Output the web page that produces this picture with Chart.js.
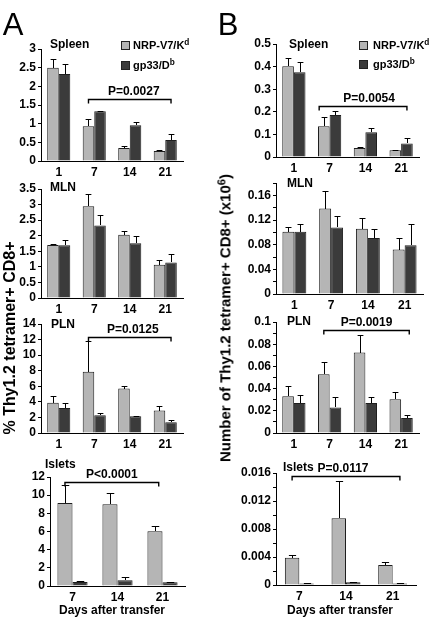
<!DOCTYPE html>
<html><head><meta charset="utf-8">
<script src="https://cdn.jsdelivr.net/npm/chart.js@4/dist/chart.umd.min.js"></script>
<style>
body{margin:0;background:#fff;width:432px;height:618px;position:relative;overflow:hidden;font-family:'Liberation Sans',Arial,sans-serif;}
canvas{position:absolute;}
.t{position:absolute;font-weight:bold;white-space:nowrap;color:#000;line-height:1;}
.c{transform:translate(-50%,-50%);}
.l{transform:translate(0,-50%);}
.r{transform:translate(-50%,-50%) rotate(-90deg);}
.sq{position:absolute;width:9px;height:9px;border:1px solid #222;box-sizing:border-box;}
sup{font-size:0.75em;vertical-align:0;position:relative;top:-0.45em;}
</style></head><body>
<script>
// ---------- DATA ----------
const daysFour = ['1', '7', '14', '21'];
const daysThree = ['7', '14', '21'];
const seriesNames = ['NRP-V7/Kd', 'gp33/Db'];

// Panel A: % Thy1.2 tetramer+ CD8+
const aSpleenNRP = [2.50, 0.93, 0.35, 0.27];
const aSpleenNRPErr = [0.22, 0.20, 0.04, 0.02];
const aSpleenGp33 = [2.33, 1.33, 0.96, 0.56];
const aSpleenGp33Err = [0.27, 0.01, 0.08, 0.16];

const aMlnNRP = [1.70, 2.95, 2.03, 1.07];
const aMlnNRPErr = [0.04, 0.38, 0.11, 0.15];
const aMlnGp33 = [1.69, 2.33, 1.76, 1.14];
const aMlnGp33Err = [0.17, 0.34, 0.22, 0.27];

const aPlnNRP = [3.90, 7.86, 5.71, 2.88];
const aPlnNRPErr = [0.87, 3.90, 0.39, 0.55];
const aPlnGp33 = [3.22, 2.28, 2.15, 1.37];
const aPlnGp33Err = [0.68, 0.34, 0.08, 0.26];

const aIsletNRP = [9.14, 8.99, 6.02];
const aIsletNRPErr = [2.02, 1.25, 0.58];
const aIsletGp33 = [0.44, 0.62, 0.40];
const aIsletGp33Err = [0.11, 0.33, 0.08];

// Panel B: Number of Thy1.2 tetramer+ CD8+ (x10^6)
const bSpleenNRP = [0.401, 0.136, 0.040, 0.030];
const bSpleenNRPErr = [0.037, 0.039, 0.004, 0.002];
const bSpleenGp33 = [0.375, 0.186, 0.109, 0.060];
const bSpleenGp33Err = [0.047, 0.019, 0.019, 0.024];

const bMlnNRP = [0.101, 0.1385, 0.106, 0.072];
const bMlnNRPErr = [0.007, 0.0285, 0.0175, 0.019];
const bMlnGp33 = [0.101, 0.108, 0.091, 0.079];
const bMlnGp33Err = [0.013, 0.019, 0.015, 0.034];

const bPlnNRP = [0.033, 0.053, 0.0725, 0.0305];
const bPlnNRPErr = [0.009, 0.011, 0.0155, 0.0065];
const bPlnGp33 = [0.027, 0.023, 0.027, 0.0136];
const bPlnGp33Err = [0.007, 0.009, 0.0056, 0.0024];

const bIsletNRP = [0.0039, 0.00955, 0.00287];
const bIsletNRPErr = [0.00035, 0.00525, 0.00038];
const bIsletGp33 = [0.0002, 0.0004, 0.0002];
const bIsletGp33Err = [0.0001, 0.0001, 0.00005];

// y-axis tick settings: [max, step, labelled step]
const aSpleenTicks = [3, 0.5, 0.5];
const aMlnTicks = [3.5, 0.5, 0.5];
const aPlnTicks = [14, 2, 2];
const aIsletTicks = [12, 2, 2];
const bSpleenTicks = [0.5, 0.1, 0.1];
const bMlnTicks = [0.18, 0.02, 0.04];
const bPlnTicks = [0.1, 0.01, 0.02];
const bIsletTicks = [0.016, 0.002, 0.004];

// significance brackets: value level and label
const aSpleenP = [1.66, 'P=0.0027'];
const aPlnP = [12.37, 'P=0.0125'];
const aIsletP = [11.45, 'P<0.0001'];
const bSpleenP = [0.227, 'P=0.0054'];
const bPlnP = [0.0924, 'P=0.0019'];
const bIsletP = [0.0156, 'P=0.0117'];

// ---------- STYLE / LAYOUT ----------
const LIGHT = '#b5b5b5', DARK = '#3b3b3b', EDGE = '#1e1e1e';
const FONT = "'Liberation Sans', Arial, sans-serif";
const YW = 45, PT = 18, PR = 6, XH = 22;

const panels = [
  {cats: daysFour, nrp: aSpleenNRP, nrpE: aSpleenNRPErr, gp: aSpleenGp33, gpE: aSpleenGp33Err, ticks: aSpleenTicks,
   area: {l: 41, r: 183, t: 49, b: 161}, cp: 0.65, br: {p: aSpleenP, from: [1, 0, 0], to: [3, 1, 0], dx: 4}},
  {cats: daysFour, nrp: aMlnNRP, nrpE: aMlnNRPErr, gp: aMlnGp33, gpE: aMlnGp33Err, ticks: aMlnTicks,
   area: {l: 41, r: 183, t: 189, b: 298}, cp: 0.65},
  {cats: daysFour, nrp: aPlnNRP, nrpE: aPlnNRPErr, gp: aPlnGp33, gpE: aPlnGp33Err, ticks: aPlnTicks,
   area: {l: 41, r: 183, t: 324, b: 433}, cp: 0.65, br: {p: aPlnP, from: [1, 0, 0], to: [3, 1, 0], dx: 3}},
  {cats: daysThree, nrp: aIsletNRP, nrpE: aIsletNRPErr, gp: aIsletGp33, gpE: aIsletGp33Err, ticks: aIsletTicks,
   area: {l: 50, r: 185, t: 477, b: 586}, cp: 0.67, br: {p: aIsletP, from: [0, 0, 0], to: [2, 0, 0.25], dx: 0}},
  {cats: daysFour, nrp: bSpleenNRP, nrpE: bSpleenNRPErr, gp: bSpleenGp33, gpE: bSpleenGp33Err, ticks: bSpleenTicks,
   area: {l: 276, r: 419, t: 44, b: 157}, cp: 0.65, br: {p: bSpleenP, from: [1, 0, -0.4], to: [3, 1, 0], dx: 6}},
  {cats: daysFour, nrp: bMlnNRP, nrpE: bMlnNRPErr, gp: bMlnGp33, gpE: bMlnGp33Err, ticks: bMlnTicks,
   area: {l: 276, r: 423, t: 183, b: 294}, cp: 0.65},
  {cats: daysFour, nrp: bPlnNRP, nrpE: bPlnNRPErr, gp: bPlnGp33, gpE: bPlnGp33Err, ticks: bPlnTicks,
   area: {l: 276, r: 419, t: 322, b: 433}, cp: 0.65, br: {p: bPlnP, from: [1, 0, 0], to: [3, 1, 0.2], dx: 0}},
  {cats: daysThree, nrp: bIsletNRP, nrpE: bIsletNRPErr, gp: bIsletGp33, gpE: bIsletGp33Err, ticks: bIsletTicks,
   area: {l: 276, r: 416, t: 473, b: 585}, cp: 0.62, br: {p: bIsletP, from: [0, 0, 0], to: [2, 1, 0], dx: -3}}
];

const errorBars = {
  id: 'errorBars',
  afterDatasetsDraw(chart) {
    const ctx = chart.ctx, ys = chart.scales.y;
    chart.data.datasets.forEach((ds, di) => {
      chart.getDatasetMeta(di).data.forEach((bar, i) => {
        const x = Math.round(bar.x) + 0.5;
        const top = Math.round(ys.getPixelForValue(ds.data[i] + ds.err[i])) + 0.5;
        const cap = Math.max(2.5, bar.width * 0.25);
        ctx.save();
        ctx.strokeStyle = '#000'; ctx.lineWidth = 1;
        ctx.beginPath();
        ctx.moveTo(x, Math.round(bar.y)); ctx.lineTo(x, top);
        ctx.moveTo(x - cap, top); ctx.lineTo(x + cap, top);
        ctx.stroke();
        ctx.restore();
      });
    });
  }
};

function bracketPlugin(br) {
  return {
    id: 'bracket',
    afterDraw(chart) {
      if (!br) return;
      const ctx = chart.ctx, ys = chart.scales.y;
      const e1 = chart.getDatasetMeta(br.from[1]).data[br.from[0]];
      const e2 = chart.getDatasetMeta(br.to[1]).data[br.to[0]];
      const x1 = e1.x + br.from[2] * e1.width, x2 = e2.x + br.to[2] * e2.width;
      const y = Math.round(ys.getPixelForValue(br.p[0])) + 0.5;
      ctx.save();
      ctx.strokeStyle = '#000'; ctx.lineWidth = 1.4;
      ctx.beginPath();
      ctx.moveTo(x1, y + 4); ctx.lineTo(x1, y); ctx.lineTo(x2, y); ctx.lineTo(x2, y + 4);
      ctx.stroke();
      ctx.fillStyle = '#000';
      ctx.font = 'bold 12px ' + FONT;
      ctx.textAlign = 'center'; ctx.textBaseline = 'middle';
      ctx.fillText(br.p[1], (x1 + x2) / 2 + br.dx, y - 8);
      ctx.restore();
    }
  };
}

function isMajor(v, major) {
  const q = v / major;
  return Math.abs(q - Math.round(q)) < 1e-6;
}

panels.forEach(p => {
  const a = p.area;
  const cv = document.createElement('canvas');
  const W = (a.r - a.l) + YW + PR, H = (a.b - a.t) + PT + XH;
  cv.width = W; cv.height = H;
  cv.style.left = (a.l - YW) + 'px';
  cv.style.top = (a.t - PT) + 'px';
  cv.style.width = W + 'px'; cv.style.height = H + 'px';
  document.body.appendChild(cv);
  const [max, step, major] = p.ticks;
  new Chart(cv, {
    type: 'bar',
    data: {
      labels: p.cats,
      datasets: [
        {label: seriesNames[0], data: p.nrp, err: p.nrpE, backgroundColor: LIGHT, borderColor: EDGE, borderWidth: 1},
        {label: seriesNames[1], data: p.gp, err: p.gpE, backgroundColor: DARK, borderColor: EDGE, borderWidth: 1}
      ]
    },
    options: {
      responsive: false, animation: false, devicePixelRatio: 1,
      layout: {padding: {top: PT, right: PR, left: 0, bottom: 0}},
      datasets: {bar: {categoryPercentage: p.cp, barPercentage: 1.0}},
      plugins: {legend: {display: false}, tooltip: {enabled: false}},
      scales: {
        x: {
          grid: {display: false, drawTicks: false, tickLength: 0},
          border: {display: true, color: '#000', width: 1},
          ticks: {color: '#000', font: {family: FONT, size: 12, weight: 'bold'}, padding: 4, maxRotation: 0},
          afterFit: s => { s.height = XH; }
        },
        y: {
          min: 0, max: max,
          grid: {display: true, drawOnChartArea: false, drawTicks: true, tickLength: 3, color: '#000', lineWidth: 1},
          border: {display: true, color: '#000', width: 1},
          ticks: {
            stepSize: step, autoSkip: false, color: '#000', padding: 2,
            font: {family: FONT, size: 12, weight: 'bold'},
            callback: v => isMajor(v, major) ? String(Number(v.toFixed(4))) : ''
          },
          afterFit: s => { s.width = YW; }
        }
      }
    },
    plugins: [errorBars, bracketPlugin(p.br)]
  });
});

// ---------- TEXT ----------
function txt(html, x, y, cls, size, extra) {
  const d = document.createElement('div');
  d.className = 't ' + cls;
  d.innerHTML = html;
  d.style.left = x + 'px'; d.style.top = y + 'px';
  d.style.fontSize = size + 'px';
  if (extra) Object.assign(d.style, extra);
  document.body.appendChild(d);
}
function sq(x, y, color) {
  const d = document.createElement('div');
  d.className = 'sq'; d.style.left = x + 'px'; d.style.top = y + 'px'; d.style.background = color;
  document.body.appendChild(d);
}
txt('A', 13, 24, 'c', 31, {fontWeight: 'normal'});
txt('B', 228, 24, 'c', 31, {fontWeight: 'normal'});

txt('Spleen', 50, 44, 'l', 12);
txt('MLN', 50, 187, 'l', 12);
txt('PLN', 51, 324, 'l', 12);
txt('Islets', 45, 464, 'l', 12);
txt('Spleen', 289, 44, 'l', 12);
txt('MLN', 287, 183, 'l', 12);
txt('PLN', 287, 321, 'l', 12);
txt('Islets', 283, 467, 'l', 12);

sq(121, 41, LIGHT); sq(121, 61, DARK);
txt('NRP-V7/K<sup>d</sup>', 133, 46, 'l', 11);
txt('gp33/D<sup>b</sup>', 133, 66, 'l', 11);
sq(359, 41, LIGHT); sq(359, 60, DARK);
txt('NRP-V7/K<sup>d</sup>', 373, 46, 'l', 11);
txt('gp33/D<sup>b</sup>', 373, 65, 'l', 11);

txt('% Thy1.2 tetramer+ CD8+', 10, 338, 'r', 16);
txt('Number of Thy1.2 tetramer+ CD8+ (x10<sup>6</sup>)', 225, 318, 'r', 15);

txt('Days after transfer', 112, 610, 'c', 12);
txt('Days after transfer', 340, 610, 'c', 12);
</script>
</body></html>
